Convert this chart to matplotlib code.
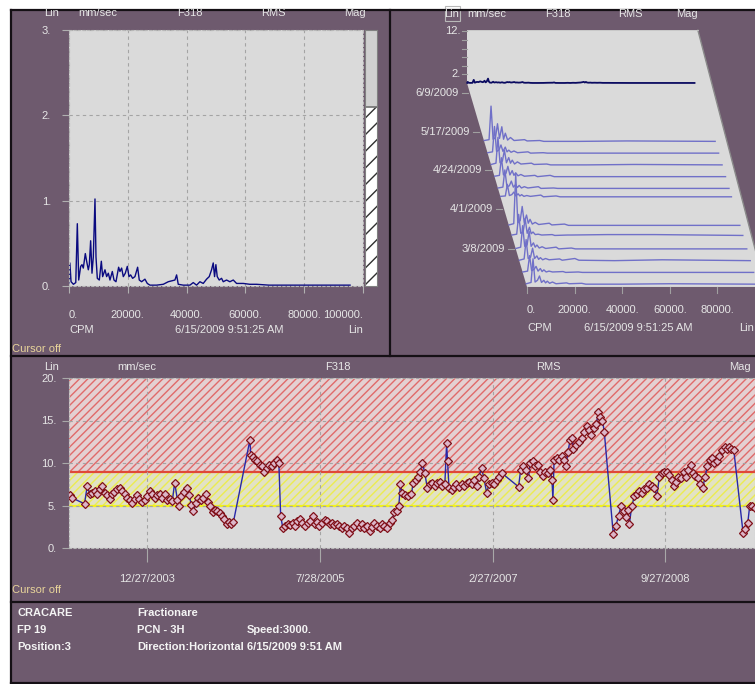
import matplotlib
matplotlib.use('Agg')
import numpy as np
import pandas as pd
import matplotlib.pyplot as plt
from matplotlib.patches import Polygon, Rectangle
import matplotlib.font_manager as fm

# narrow font if present, otherwise Liberation Sans
names = {f.name for f in fm.fontManager.ttflist}
families = [f for f in ['Liberation Sans Narrow', 'DejaVu Sans Condensed', 'Liberation Sans']
            if f in names] + ['DejaVu Sans']
plt.rcParams['font.family'] = families
NARROW = families[0] in ('Liberation Sans Narrow', 'DejaVu Sans Condensed')
FS = 8.5 if NARROW else 8
plt.rcParams['hatch.linewidth'] = 1.0

# ---------------- data ----------------
header = ['Lin', 'mm/sec', 'F318', 'RMS', 'Mag']
meas_label = '6/15/2009 9:51:25 AM'

# latest spectrum (6/15/2009), CPM vs mm/sec RMS
spec_cpm = [100, 300, 700, 1500, 2300, 2830, 3300, 3970, 4420, 4870, 5550, 6000, 6570, 6910,
            7360, 7820, 8270, 8840, 9180, 9630, 10310, 11000, 11440, 12240, 12800, 13370,
            13940, 14730, 15300, 15980, 16880, 17330, 17900, 18470, 19150, 19830, 20400,
            20960, 21640, 22430, 23340, 23900, 24700, 25830, 26630, 27530, 29800, 32060,
            33760, 36030, 36600, 37160, 38860, 41130, 42260, 43390, 44530, 45660, 46790,
            47700, 48490, 49060, 49510, 49960, 50420, 51100, 51890, 52460, 53590, 54720,
            55870, 57000, 59270, 61500, 63800, 68000, 75000, 85000, 95600]
spec_amp = [0.04, 0.27, 0.05, 0.02, 0.04, 0.73, 0.07, 0.23, 0.25, 0.21, 0.38, 0.29, 0.19, 0.25,
            0.53, 0.15, 0.34, 1.02, 0.34, 0.09, 0.07, 0.29, 0.11, 0.19, 0.11, 0.15,
            0.07, 0.17, 0.07, 0.05, 0.22, 0.17, 0.21, 0.11, 0.15, 0.23, 0.11,
            0.13, 0.09, 0.11, 0.22, 0.07, 0.05, 0.08, 0.03, 0.01, 0.01, 0.02,
            0.05, 0.07, 0.13, 0.02, 0.01, 0.01, 0.04, 0.01, 0.05, 0.03, 0.08,
            0.11, 0.19, 0.27, 0.11, 0.25, 0.11, 0.07, 0.09, 0.05, 0.07, 0.05,
            0.07, 0.03, 0.03, 0.02, 0.02, 0.01, 0.01, 0.01, 0.01]
overall_mag = 2.1

# waterfall history
wf_ref_date = '2009-06-15'
wf_dates = ['2009-05-11', '2009-05-04', '2009-04-27', '2009-04-20', '2009-04-13', '2009-04-08',
            '2009-03-22', '2009-03-16', '2009-03-08', '2009-03-01', '2009-02-22', '2009-02-15']
wf_cpm = [0, 2000, 2830, 3700, 4700, 5550, 6400, 7360, 8100, 8840, 9800, 11000, 12500,
          16900, 18000, 23300, 25000, 40000, 60000, 97000]
wf_amp = [
    [0.3, 0.5, 8.3, 0.6, 1.0, 4.2, 0.8, 3.5, 0.6, 2.0, 0.4, 1.0, 0.3, 0.5, 0.2, 0.3, 0.1, 0.1, 0.2, 0.1],
    [0.2, 0.4, 6.3, 0.5, 0.8, 2.0, 0.5, 1.5, 0.4, 0.8, 0.3, 0.6, 0.2, 0.4, 0.1, 0.2, 0.1, 0.1, 0.1, 0.1],
    [0.2, 0.5, 6.5, 0.6, 1.0, 3.5, 0.6, 1.8, 0.5, 1.2, 0.3, 0.8, 0.3, 0.5, 0.2, 0.3, 0.1, 0.1, 0.2, 0.1],
    [0.2, 0.4, 4.5, 0.5, 0.8, 2.5, 0.5, 1.5, 0.4, 1.0, 0.3, 0.6, 0.2, 0.4, 0.1, 0.4, 0.1, 0.1, 0.1, 0.1],
    [0.2, 0.4, 4.4, 0.5, 0.7, 1.8, 0.4, 1.0, 0.3, 0.8, 0.2, 0.5, 0.2, 0.5, 0.1, 0.2, 0.1, 0.1, 0.1, 0.1],
    [0.2, 0.3, 3.0, 0.4, 0.6, 1.2, 0.3, 0.8, 0.3, 0.6, 0.2, 0.4, 0.2, 0.5, 0.1, 0.3, 0.1, 0.1, 0.1, 0.1],
    [0.2, 0.5, 12.0, 0.7, 1.2, 4.5, 0.8, 2.5, 0.6, 1.5, 0.4, 0.8, 0.3, 0.6, 0.2, 0.4, 0.1, 0.1, 0.1, 0.1],
    [0.2, 0.4, 5.0, 0.6, 0.9, 4.0, 0.6, 2.0, 0.5, 0.9, 0.3, 0.4, 0.2, 0.3, 0.1, 0.2, 0.2, 0.3, 0.3, 0.1],
    [0.2, 0.5, 5.5, 0.7, 1.0, 4.2, 0.7, 1.5, 0.5, 1.0, 0.3, 0.6, 0.2, 0.5, 0.1, 0.3, 0.1, 0.1, 0.1, 0.1],
    [0.2, 0.5, 5.0, 0.6, 0.9, 3.0, 0.6, 1.2, 0.4, 0.8, 0.3, 0.6, 0.3, 0.5, 0.2, 0.6, 0.2, 0.1, 0.3, 0.1],
    [0.2, 0.4, 4.0, 0.5, 0.8, 1.5, 0.4, 1.0, 0.3, 0.7, 0.2, 0.4, 0.2, 0.3, 0.1, 0.2, 0.1, 0.1, 0.1, 0.1],
    [0.2, 0.5, 6.0, 0.6, 1.0, 2.0, 0.5, 1.0, 0.4, 0.8, 0.3, 0.6, 0.2, 0.4, 0.2, 0.3, 0.1, 0.1, 0.2, 0.1],
]
wf_tick_dates = ['2009-06-09', '2009-05-17', '2009-04-24', '2009-04-01', '2009-03-08']
wf_tick_labels = ['6/9/2009', '5/17/2009', '4/24/2009', '4/1/2009', '3/8/2009']

# overall trend, days counted from 12/27/2003
trend_base = '2003-12-27'
trend_days = [-260, -252, -210, -201, -192, -185, -176, -168, -159, -150, -142, -134, -125, -117,
              -110, -101, -92, -84, -76, -67, -59, -50, -42, -33, -26, -17, -9, 0, 9, 17, 25,
              34, 42, 51, 58, 67, 76, 84, 92, 101, 107, 114, 123, 132, 140, 148, 155, 163, 170,
              179, 188, 196, 202, 211, 219, 226, 235, 244, 252, 258, 266, 275, 282, 289,
              344, 347, 353, 361, 369, 378, 386, 392, 400, 409, 417, 425, 434, 441,
              447, 454, 462, 470, 479, 488, 495, 503, 512, 520, 529, 537, 546, 554, 561, 570,
              577, 586, 594, 602, 611, 619, 626, 635, 644, 652, 660, 669, 677, 686, 694, 703,
              712, 719, 727, 736, 745, 753, 761, 770, 779, 787, 794, 803, 812, 820, 828, 837,
              843, 848, 854, 863, 874, 885, 891, 900, 908, 915, 922, 930, 938, 947, 955, 964,
              971, 980, 988, 997, 1003, 1006, 1011, 1020, 1027, 1036, 1045, 1053, 1062, 1070,
              1078, 1087, 1095, 1104, 1111, 1120, 1128, 1137, 1145, 1154, 1163, 1171, 1180,
              1188, 1244, 1251, 1260, 1269, 1277, 1283, 1292, 1300, 1309, 1316, 1325, 1333,
              1341, 1350, 1356, 1359, 1363, 1372, 1381, 1389, 1397, 1403, 1409, 1417, 1423,
              1428, 1437, 1447, 1455, 1464, 1473, 1480, 1488, 1497, 1505, 1511, 1517, 1525,
              1531, 1561, 1570, 1579, 1587, 1596, 1604, 1609, 1615, 1623, 1632, 1641, 1648,
              1656, 1665, 1674, 1682, 1690, 1699, 1707, 1716, 1723, 1732, 1740, 1749, 1757,
              1764, 1772, 1779, 1788, 1797, 1805, 1813, 1820, 1828, 1835, 1844, 1853, 1861,
              1869, 1876, 1884, 1891, 1900, 1909, 1917, 1925, 1934, 1942, 1949, 1956, 1965,
              1996, 2003, 2012, 2018, 2026, 2035]
trend_vals = [6.2, 5.9, 5.2, 7.3, 6.3, 6.5, 6.7, 6.4, 6.9, 7.3, 6.5, 6.2, 5.8, 6.3,
              6.6, 6.9, 7.1, 6.7, 6.3, 5.9, 5.6, 5.3, 5.8, 6.2, 5.8, 5.4, 5.7, 6.1, 6.7, 6.3, 5.9,
              6.2, 6.4, 5.9, 6.4, 5.6, 5.8, 5.5, 7.7, 5.7, 4.9, 6.1, 6.6, 7.1, 6.2, 5.1, 4.3, 5.3, 5.9,
              5.7, 5.9, 6.3, 5.4, 4.9, 4.2, 4.5, 4.3, 4.1, 3.8, 3.4, 2.8, 3.1, 2.8, 3.1,
              12.7, 10.9, 10.7, 10.4, 10.2, 9.8, 9.6, 9.0, 9.4, 9.8, 9.6, 10.0, 10.3, 10.0,
              3.8, 2.4, 2.6, 2.8, 2.7, 2.9, 2.6, 3.2, 3.4, 3.0, 2.6, 2.9, 3.2, 3.8, 2.8, 3.1,
              2.6, 2.9, 3.3, 3.2, 2.8, 3.0, 2.7, 2.8, 2.6, 2.4, 2.6, 2.3, 1.8, 2.4, 2.6, 2.9,
              2.5, 2.8, 2.3, 2.6, 2.0, 2.5, 2.9, 2.6, 2.3, 2.8, 2.6, 2.3, 3.0, 3.3, 4.2, 4.3,
              5.0, 7.5, 6.5, 6.2, 6.1, 6.3, 7.7, 8.0, 8.4, 9.0, 10.0, 8.8, 7.1, 7.5, 7.7, 7.3,
              7.7, 7.8, 7.3, 7.5, 12.3, 10.2, 7.1, 6.8, 7.2, 7.5, 7.2, 7.5, 7.3, 7.7,
              7.8, 7.5, 8.0, 7.3, 8.4, 9.4, 8.2, 6.5, 7.5, 7.7, 7.5, 8.0, 8.4,
              8.8, 7.2, 9.2, 9.6, 9.2, 8.2, 10.0, 10.2, 9.6, 9.8, 9.0, 8.5, 9.0,
              8.8, 9.2, 8.0, 5.7, 10.4, 10.6, 10.4, 10.8, 10.4, 9.6, 11.3, 12.7, 12.9,
              11.7, 12.1, 12.5, 12.9, 13.7, 14.3, 13.9, 13.3, 14.1, 14.6, 16.0, 15.4, 15.0,
              13.7, 1.7, 2.6, 3.8, 4.9, 4.3, 3.6, 4.5, 2.8, 4.9, 6.1, 6.3, 6.7,
              6.5, 6.9, 7.1, 7.5, 7.3, 7.1, 6.1, 8.4, 8.8, 9.0, 8.9, 8.6, 8.0,
              7.3, 7.8, 8.4, 8.2, 9.0, 8.4, 9.2, 9.8, 8.8, 8.5, 8.2, 7.5, 7.1,
              8.4, 9.6, 10.4, 10.6, 10.0, 10.2, 10.8, 11.5, 11.9, 11.7, 11.9, 11.7, 11.5,
              1.8, 2.2, 3.0, 4.9, 5.0, 4.7]
alert_level = 5.0
danger_level = 9.0
trend_ticks = ['2003-12-27', '2005-07-28', '2007-02-27', '2008-09-27']
trend_tick_labels = ['12/27/2003', '7/28/2005', '2/27/2007', '9/27/2008']

info_rows = [['CRACARE', 'Fractionare', ''],
             ['FP 19', 'PCN - 3H', 'Speed:3000.'],
             ['Position:3', 'Direction:Horizontal', '6/15/2009 9:51 AM']]

# ---------------- style ----------------
W, H = 755, 684
BG = '#6e5a6e'
PLOT_BG = '#dadada'
TXT = '#e6e6e6'
CURSOR = '#e8d49a'
GRID = '#a4a4a4'

fig = plt.figure(figsize=(W / 100, H / 100), dpi=100)
fig.patch.set_facecolor('white')


def px_axes(x0, y0, x1, y1):
    return fig.add_axes([x0 / W, 1 - y1 / H, (x1 - x0) / W, (y1 - y0) / H])


bg = px_axes(0, 0, W, H)
bg.set_xlim(0, W)
bg.set_ylim(H, 0)
bg.axis('off')
bg.add_patch(Rectangle((11, 10), W - 11, H - 10, facecolor=BG, edgecolor='none'))
for seg in [((11, 11), (10, H)), ((11, W), (10, 10)), ((390, 390), (10, 356)),
            ((11, W), (356, 356)), ((11, W), (602, 602)), ((11, W), (683, 683))]:
    bg.plot(seg[0], seg[1], color='#151015', lw=1.6)


def hdr(xs, y):
    for lab, x in zip(header, xs):
        bg.text(x, y, lab, color=TXT, fontsize=FS, ha='center', va='center')


# ---------------- top-left spectrum ----------------
ax1 = px_axes(69, 30, 363, 286)
ax1.set_facecolor(PLOT_BG)
ax1.plot(spec_cpm, spec_amp, color='#0a0a80', lw=1.0)
ax1.set_xlim(0, 100000)
ax1.set_ylim(0, 3)
ax1.set_yticks([0, 1, 2, 3])
ax1.set_yticklabels(['0.', '1.', '2.', '3.'])
ax1.set_xticks([0, 20000, 40000, 60000, 80000, 100000])
ax1.set_xticklabels(['0.', '20000.', '40000.', '60000.', '80000.', '100000.'])
xl = ax1.get_xticklabels()
xl[0].set_ha('left')
xl[-1].set_ha('right')
ax1.grid(True, ls=(0, (3, 3)), color=GRID, lw=0.8)
for s in ax1.spines.values():
    s.set_linestyle((0, (2, 2)))
    s.set_color('#b8b8b8')
ax1.tick_params(axis='both', colors='#b0b0b0', labelcolor=TXT, labelsize=FS, length=5)
ax1.tick_params(axis='x', pad=12)
ax1.tick_params(axis='y', pad=8)

axm = px_axes(365, 30, 377, 286)
axm.set_facecolor('#d0d0d0')
axm.bar(0.5, overall_mag, width=1, facecolor='white', edgecolor='#303030', hatch='//', lw=0)
axm.axhline(overall_mag, color='#707070', lw=1.2)
axm.set_xlim(0, 1)
axm.set_ylim(0, 3)
axm.set_xticks([])
axm.set_yticks([])
for s in axm.spines.values():
    s.set_color('#808080')

hdr([52, 98, 190, 273, 355], 13)
bg.text(69, 330, 'CPM', color=TXT, fontsize=FS, ha='left', va='center')
bg.text(229, 330, meas_label, color=TXT, fontsize=FS, ha='center', va='center')
bg.text(363, 330, 'Lin', color=TXT, fontsize=FS, ha='right', va='center')
bg.text(12, 349, 'Cursor off', color=CURSOR, fontsize=FS, ha='left', va='center')

# ---------------- top-right waterfall ----------------
ORIGIN = (467, 83)           # pixel position of 0 CPM / 0 mm/sec on newest trace
PX_PER_CPM = 2.38 / 1000
PX_PER_AMP = 4.3
DAY_DX, DAY_DY = 0.494, 1.68  # pixel shift per day back
FRONT_DAYS = 121.4
FMAX, AMAX = 97000, 12.3

ax2 = px_axes(391, 11, 755, 355)
ax2.set_xlim((391 - ORIGIN[0]) / PX_PER_CPM, (755 - ORIGIN[0]) / PX_PER_CPM)
ax2.set_ylim(-(355 - ORIGIN[1]) / PX_PER_AMP, (ORIGIN[1] - 11) / PX_PER_AMP)
ax2.axis('off')
ref = pd.Timestamp(wf_ref_date)


def proj(cpm, amp, days):
    cpm = np.asarray(cpm, float)
    amp = np.asarray(amp, float)
    return (cpm + days * DAY_DX / PX_PER_CPM, amp - days * DAY_DY / PX_PER_AMP)


fx, fy = proj([0, FMAX], [0, 0], FRONT_DAYS)
panel = Polygon([(0, AMAX), (FMAX, AMAX), (fx[1] + 3000, fy[1]), (fx[0], fy[0]), (0, 0)],
                closed=True, facecolor=PLOT_BG, edgecolor='none')
ax2.add_patch(panel)
ax2.plot([FMAX, fx[1] + 3000], [AMAX, fy[1]], color='#8a8a8a', lw=1)
ax2.plot([0, FMAX], [AMAX, AMAX], color='#c8c8c8', lw=0.6)

for d_str, amps in zip(wf_dates, wf_amp):
    d = (ref - pd.Timestamp(d_str)).days
    px_, py_ = proj(wf_cpm, amps, d)
    ax2.plot(px_, py_, color='#7070c8', lw=1.0)
ax2.plot(*proj(spec_cpm, spec_amp, 0), color='#0a0a60', lw=1.3)

# back wall amplitude ticks
tk = 5 / PX_PER_CPM
for v in [2, 4, 6, 8, 10, 12]:
    ax2.plot([-tk, 0], [v, v], color='#a0a0a0', lw=0.8)
for v in [2, 12]:
    ax2.text(-tk - 1 / PX_PER_CPM, v, f'{v}.', color=TXT, fontsize=FS, ha='right', va='center')

# depth (date) ticks along the slanted left edge
for d_str, lab in zip(wf_tick_dates, wf_tick_labels):
    d = (ref - pd.Timestamp(d_str)).days
    ex, ey = proj(0, 0, d)
    ax2.plot([ex - 8 / PX_PER_CPM, ex - 2 / PX_PER_CPM], [ey, ey], color='#a0a0a0', lw=0.8)
    ax2.text(ex - 11 / PX_PER_CPM, ey, lab, color=TXT, fontsize=FS, ha='right', va='center')

# frequency ticks along the front edge
for c, lab in zip([0, 20000, 40000, 60000, 80000], ['0.', '20000.', '40000.', '60000.', '80000.']):
    tx, ty = proj(c, 0, FRONT_DAYS)
    ax2.plot([tx, tx], [ty, ty - 6 / PX_PER_AMP], color='#a0a0a0', lw=0.8)
    ax2.text(tx, ty - 23 / PX_PER_AMP, lab, color=TXT, fontsize=FS,
             ha='left' if c == 0 else 'center', va='center')

hdr([452, 487, 558, 630, 687], 14)
bg.add_patch(Rectangle((445, 6), 15, 15, facecolor='none', edgecolor='#b8b8b8', lw=0.8))
bg.text(527, 328, 'CPM', color=TXT, fontsize=FS, ha='left', va='center')
bg.text(638, 328, meas_label, color=TXT, fontsize=FS, ha='center', va='center')
bg.text(754, 328, 'Lin', color=TXT, fontsize=FS, ha='right', va='center')

# ---------------- bottom trend ----------------
ax3 = px_axes(69, 378, 755, 548)
ax3.set_facecolor(PLOT_BG)
base = pd.Timestamp(trend_base)
t_dates = base + pd.to_timedelta(trend_days, unit='D')
ax3.axhspan(danger_level, 20, facecolor='#e4d0d2', edgecolor='#e06a6a', hatch='////', lw=0, zorder=0)
ax3.axhspan(alert_level, danger_level, facecolor='#e2e2c4', edgecolor='#ecec50', hatch='////', lw=0,
            zorder=0)
ax3.axhline(danger_level, color='#e04838', lw=1.6, zorder=2)
ax3.axhline(alert_level, color='#f0f020', lw=1.6, zorder=2)
ax3.plot(t_dates, trend_vals, color='#2828a8', lw=1.0, marker='D', markersize=4.2,
         markerfacecolor='#dcb6c8', markeredgecolor='#801018', markeredgewidth=0.9, zorder=4)
ax3.set_xlim(base + pd.Timedelta(days=-262), base + pd.Timedelta(days=2036))
ax3.set_ylim(0, 20)
ax3.set_yticks([0, 5, 10, 15, 20])
ax3.set_yticklabels(['0.', '5.', '10.', '15.', '20.'])
ax3.set_xticks([pd.Timestamp(t) for t in trend_ticks])
ax3.set_xticklabels(trend_tick_labels)
ax3.grid(True, ls=(0, (3, 3)), color=GRID, lw=0.8, zorder=1)
ax3.set_axisbelow(False)
for s in ax3.spines.values():
    s.set_linestyle((0, (2, 2)))
    s.set_color('#b8b8b8')
ax3.tick_params(axis='both', colors='#a8a8a8', labelcolor=TXT, labelsize=FS)
ax3.tick_params(axis='x', length=10, pad=9)
ax3.tick_params(axis='y', length=5, pad=4)

hdr([52, 137, 338, 548, 740], 367)
bg.text(12, 590, 'Cursor off', color=CURSOR, fontsize=FS, ha='left', va='center')

# ---------------- info block ----------------
for r, row in enumerate(info_rows):
    for xpos, txt in zip([17, 137, 247], row):
        bg.text(xpos, 613 + 17 * r, txt, color='#f4f4f4', fontsize=FS, fontweight='bold',
                ha='left', va='center')

fig.savefig('out.png', dpi=100, facecolor=fig.get_facecolor())
